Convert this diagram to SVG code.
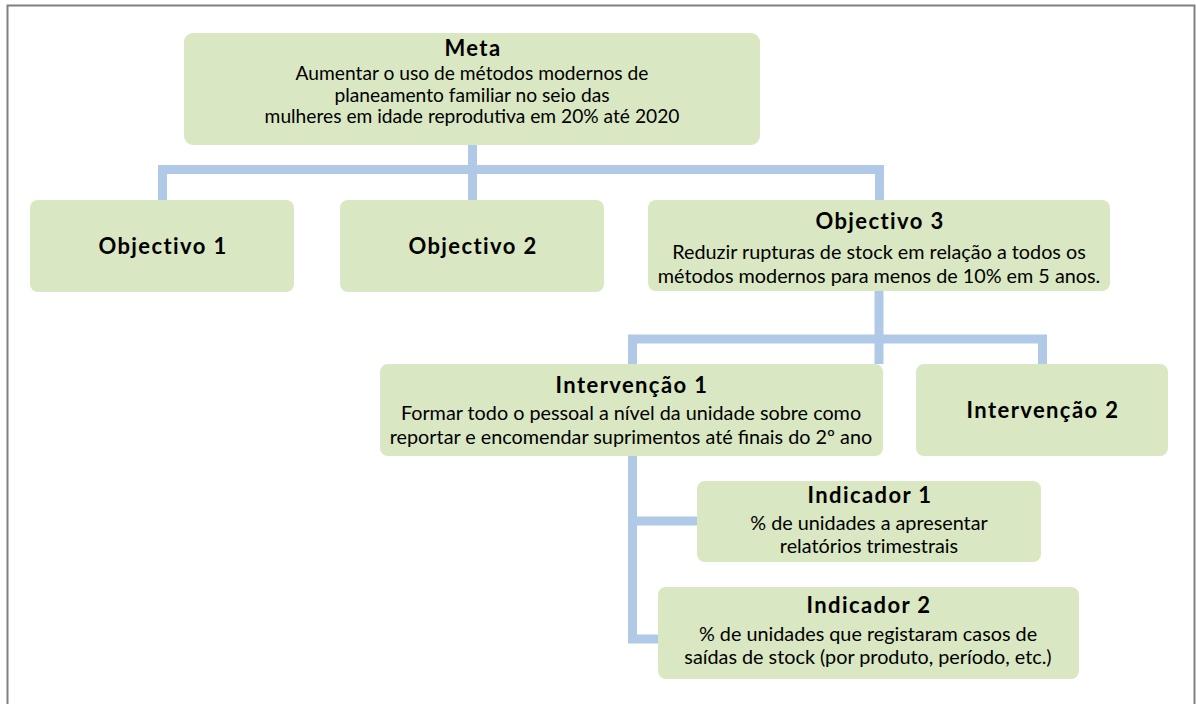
<svg xmlns="http://www.w3.org/2000/svg" width="1196" height="704" viewBox="0 0 1196 704">
<style>
.box{fill:#d9e7c2;}
.t{font-family:Lato,"Open Sans",sans-serif;font-size:19.8px;fill:#000;text-anchor:middle;}
.m{font-size:19.2px;}
.b{font-weight:bold;font-size:22px;letter-spacing:1.4px;}
.c{fill:none;stroke:#afc9e6;stroke-width:9;}
</style>
<rect width="1196" height="704" fill="#fff"/>
<path d="M7.5,704 V5.5 H1194.5 V704" fill="none" stroke="#808080" stroke-width="2"/>
<g id="connectors">
<path class="c" d="M472.5,145 V200 M162.5,200 V169.5 H879.5 V200"/>
<path class="c" d="M879,291 V364 M632.5,364 V339 H1042.5 V364"/>
<path class="c" d="M632.5,456 V643"/>
<path class="c" d="M628,521 H697 M628,639 H658"/>
</g>
<g id="meta">
<rect class="box" x="184" y="33" width="576" height="112" rx="9"/>
<text class="t b" x="473" y="56">Meta</text>
<text class="t m" x="472" y="80">Aumentar o uso de métodos modernos de</text>
<text class="t m" x="472" y="101.5">planeamento familiar no seio das</text>
<text class="t m" x="472" y="123">mulheres em idade reprodutiva em 20% até 2020</text>
</g>
<g id="objectivo1">
<rect class="box" x="30" y="200" width="264" height="92" rx="8"/>
<text class="t b" x="163" y="254">Objectivo 1</text>
</g>
<g id="objectivo2">
<rect class="box" x="340" y="200" width="264" height="92" rx="8"/>
<text class="t b" x="473" y="254">Objectivo 2</text>
</g>
<g id="objectivo3">
<rect class="box" x="648" y="200" width="462" height="91" rx="8"/>
<text class="t b" x="880" y="229">Objectivo 3</text>
<text class="t" x="879" y="259">Reduzir rupturas de stock em relação a todos os</text>
<text class="t" x="879" y="283">métodos modernos para menos de 10% em 5 anos.</text>
</g>
<g id="intervencao1">
<rect class="box" x="380" y="364" width="503" height="92" rx="8"/>
<text class="t b" x="632" y="393">Intervenção 1</text>
<text class="t" x="631" y="420">Formar todo o pessoal a nível da unidade sobre como</text>
<text class="t" x="631" y="444">reportar e encomendar suprimentos até finais do 2º ano</text>
</g>
<g id="intervencao2">
<rect class="box" x="916" y="364" width="252" height="92" rx="8"/>
<text class="t b" x="1043" y="418">Intervenção 2</text>
</g>
<g id="indicador1">
<rect class="box" x="697" y="481" width="344" height="81" rx="8"/>
<text class="t b" x="870" y="503">Indicador 1</text>
<text class="t" x="869" y="530">% de unidades a apresentar</text>
<text class="t" x="869" y="553">relatórios trimestrais</text>
</g>
<g id="indicador2">
<rect class="box" x="658" y="587" width="421" height="92" rx="8"/>
<text class="t b" x="869" y="613">Indicador 2</text>
<text class="t" x="868" y="641">% de unidades que registaram casos de</text>
<text class="t" x="868" y="664">saídas de stock (por produto, período, etc.)</text>
</g>
</svg>
